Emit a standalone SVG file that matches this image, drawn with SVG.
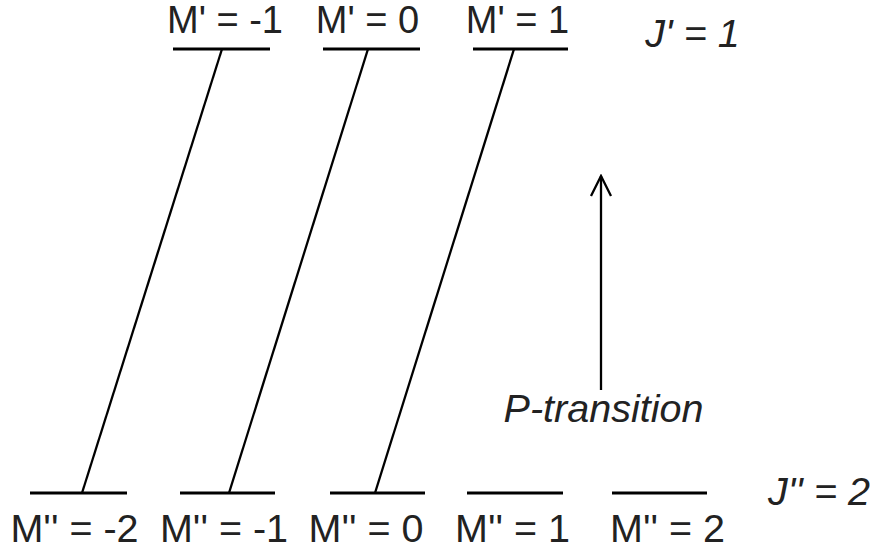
<svg xmlns="http://www.w3.org/2000/svg" width="876" height="550" viewBox="0 0 876 550">
<defs>
<style>
.lv{stroke:#000;stroke-width:3;fill:none}
.tr{stroke:#000;stroke-width:2.3;fill:none}
.t{font-family:"Liberation Sans",Arial,sans-serif;font-size:39.5px;fill:#222}
.u{font-size:38px}
.i{font-style:italic}
</style>
<marker id="ah" viewBox="0 0 24 24" refX="22" refY="12" markerWidth="24" markerHeight="24" markerUnits="userSpaceOnUse" orient="auto">
<path d="M2,2 L22,12 L2,22" fill="none" stroke="#000" stroke-width="2.3"/>
</marker>
</defs>
<rect width="876" height="550" fill="#fff"/>
<g id="upper-m-1"><line class="lv" x1="173" y1="49" x2="270" y2="49"/><text class="t u" x="225" y="33" text-anchor="middle">M' = -1</text></g>
<g id="upper-m0"><line class="lv" x1="323" y1="49" x2="420" y2="49"/><text class="t u" x="367.5" y="33" text-anchor="middle">M' = 0</text></g>
<g id="upper-m1"><line class="lv" x1="473" y1="49" x2="568" y2="49"/><text class="t u" x="517.5" y="33" text-anchor="middle">M' = 1</text></g>
<g id="upper-j"><text class="t i" x="692.5" y="47" text-anchor="middle">J' = 1</text></g>
<g id="lower-m-2"><line class="lv" x1="30" y1="493" x2="127" y2="493"/><text class="t" x="74.5" y="542" text-anchor="middle">M'' = -2</text></g>
<g id="lower-m-1"><line class="lv" x1="180" y1="493" x2="275" y2="493"/><text class="t" x="224" y="542" text-anchor="middle">M'' = -1</text></g>
<g id="lower-m0"><line class="lv" x1="330" y1="493" x2="425" y2="493"/><text class="t" x="366" y="542" text-anchor="middle">M'' = 0</text></g>
<g id="lower-m1"><line class="lv" x1="467" y1="493" x2="563" y2="493"/><text class="t" x="512.5" y="542" text-anchor="middle">M'' = 1</text></g>
<g id="lower-m2"><line class="lv" x1="612" y1="493" x2="707" y2="493"/><text class="t" x="667.5" y="542" text-anchor="middle">M'' = 2</text></g>
<g id="lower-j"><text class="t i" x="819" y="505" text-anchor="middle">J'' = 2</text></g>
<g id="label"><text class="t i" x="603.5" y="422" text-anchor="middle">P-transition</text></g>
<g id="connectors">
<line class="tr" x1="222" y1="49" x2="82" y2="493"/>
<line class="tr" x1="368" y1="49" x2="229" y2="493"/>
<line class="tr" x1="514" y1="49" x2="375" y2="493"/>
<line class="tr" x1="601" y1="390" x2="601" y2="176" marker-end="url(#ah)"/>
</g>
</svg>
